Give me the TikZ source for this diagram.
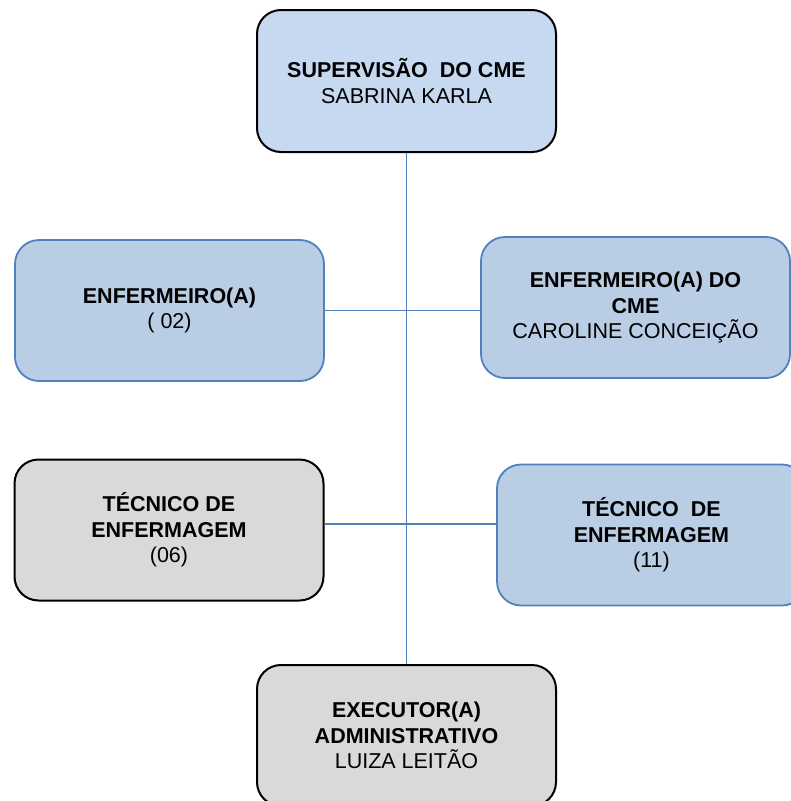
\documentclass[tikz,border=0pt]{standalone}
\usepackage{fontspec}
\setmainfont{Liberation Sans}
\usepackage{tikz}

\definecolor{boxblue}{HTML}{B9CDE5}
\definecolor{topblue}{HTML}{C6D9F1}
\definecolor{boxgray}{HTML}{D9D9D9}
\definecolor{lineblue}{HTML}{4F81BD}

\tikzset{
  card/.style={rounded corners=24pt, minimum width=309pt, minimum height=141pt,
    align=center, font=\fontsize{21.5}{25.5}\selectfont},
  bluecard/.style={card, fill=boxblue, draw=lineblue, line width=1.8pt},
  graycard/.style={card, fill=boxgray, draw=black, line width=2pt},
  conn/.style={draw=lineblue, line width=1.8pt}
}

\begin{document}
\begin{tikzpicture}[x=1pt,y=-1pt]
\useasboundingbox (0,0) rectangle (791,801);
\clip (0,0) rectangle (791,801);
\node[card, fill=topblue, draw=black, line width=2pt, minimum width=299pt, minimum height=142pt]
  (sup) at (406.5,81) {\textbf{SUPERVISÃO\ \ DO CME}\\SABRINA KARLA};
\node[bluecard] (enf) at (169.5,310.5) {\textbf{ENFERMEIRO(A)}\\( 02)};
\node[bluecard] (enfcme) at (635.5,307.5) {\textbf{ENFERMEIRO(A) DO}\\\textbf{CME}\\CAROLINE CONCEIÇÃO};
\node[graycard] (tecl) at (169,530) {\textbf{TÉCNICO DE}\\\textbf{ENFERMAGEM}\\(06)};
\node[bluecard] (tecr) at (651.5,535) {\textbf{TÉCNICO\ \ DE}\\\textbf{ENFERMAGEM}\\(11)};
\node[graycard, minimum width=299pt] (exec) at (406.5,735.5) {\textbf{EXECUTOR(A)}\\\textbf{ADMINISTRATIVO}\\LUIZA LEITÃO};
% ligacoes
\draw[conn] (sup.south) -- (exec.north);
\draw[conn] (enf.east) -- (enf.east -| enfcme.west);
\draw[conn] ([yshift=6pt]tecl.east) -- ([yshift=6pt]tecl.east -| tecr.west);
\end{tikzpicture}
\end{document}
